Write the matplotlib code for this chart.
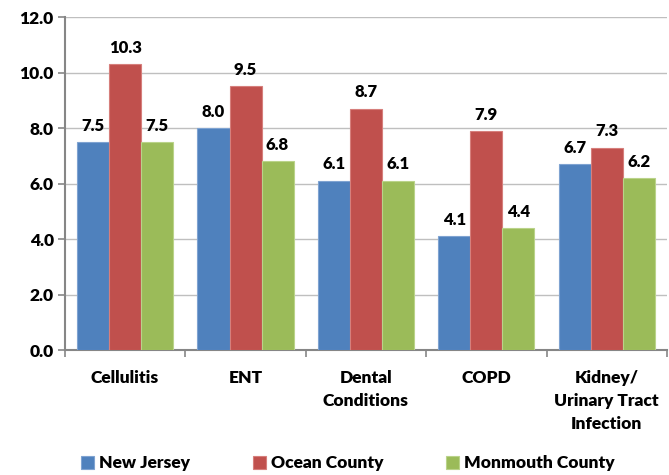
import numpy as np
import matplotlib.pyplot as plt

categories = ['Cellulitis', 'ENT', 'Dental\nConditions', 'COPD', 'Kidney/\nUrinary Tract\nInfection']
series_names = ['New Jersey', 'Ocean County', 'Monmouth County']
new_jersey = [7.5, 8.0, 6.1, 4.1, 6.7]
ocean_county = [10.3, 9.5, 8.7, 7.9, 7.3]
monmouth_county = [7.5, 6.8, 6.1, 4.4, 6.2]
colors = ['#4F81BD', '#C0504D', '#9BBB59']
edges = ['#7FA3D1', '#D67F7C', '#BAD38A']

plt.rcParams['font.family'] = ['Lato', 'DejaVu Sans']
plt.rcParams['font.weight'] = 'heavy'

fig = plt.figure(figsize=(6.69, 4.75), dpi=100)
ax = fig.add_axes([0.097, 0.263, 0.9, 0.701])

x = np.arange(len(categories))
w = 0.266
for i, (vals, c, ec, name) in enumerate(zip([new_jersey, ocean_county, monmouth_county], colors, edges, series_names)):
    pos = x + (i - 1) * w
    bars = ax.bar(pos, vals, w, color=c, edgecolor=ec, linewidth=0.8, label=name, zorder=3)
    for b, v in zip(bars, vals):
        ax.text(b.get_x() + b.get_width() / 2, v + 0.3, f'{v:.1f}', ha='center', va='bottom',
                fontsize=12, fontweight='heavy')

ax.set_xlim(-0.5, len(categories) - 0.5)
ax.set_ylim(0, 12)
ax.set_yticks(np.arange(0, 12.1, 2))
ax.set_yticklabels([f'{t:.1f}' for t in np.arange(0, 12.1, 2)], fontsize=12.5, fontweight='heavy')
ax.yaxis.grid(True, color='#BFBFBF', linewidth=1, zorder=0)
ax.set_axisbelow(True)

ax.set_xticks(x)
ax.set_xticklabels(categories, fontsize=12.5, fontweight='heavy', va='top', linespacing=1.55)
ax.tick_params(axis='x', length=0, pad=14)
ax.set_xticks(np.arange(-0.5, len(categories)), minor=True)
ax.tick_params(axis='x', which='minor', length=5, color='#868686', width=1.2)
ax.tick_params(axis='y', length=5, color='#868686', width=1.2, pad=3)

for s in ['top', 'right']:
    ax.spines[s].set_visible(False)
for s in ['left', 'bottom']:
    ax.spines[s].set_color('#868686')
    ax.spines[s].set_linewidth(1.5)

fig.legend(loc='lower center', bbox_to_anchor=(0.52, -0.025), ncol=3, frameon=False,
           handlelength=0.75, handleheight=0.75, handletextpad=0.3,
           columnspacing=3.6, prop={'weight': 'heavy', 'size': 12.5})

fig.savefig('out.png', dpi=100)
